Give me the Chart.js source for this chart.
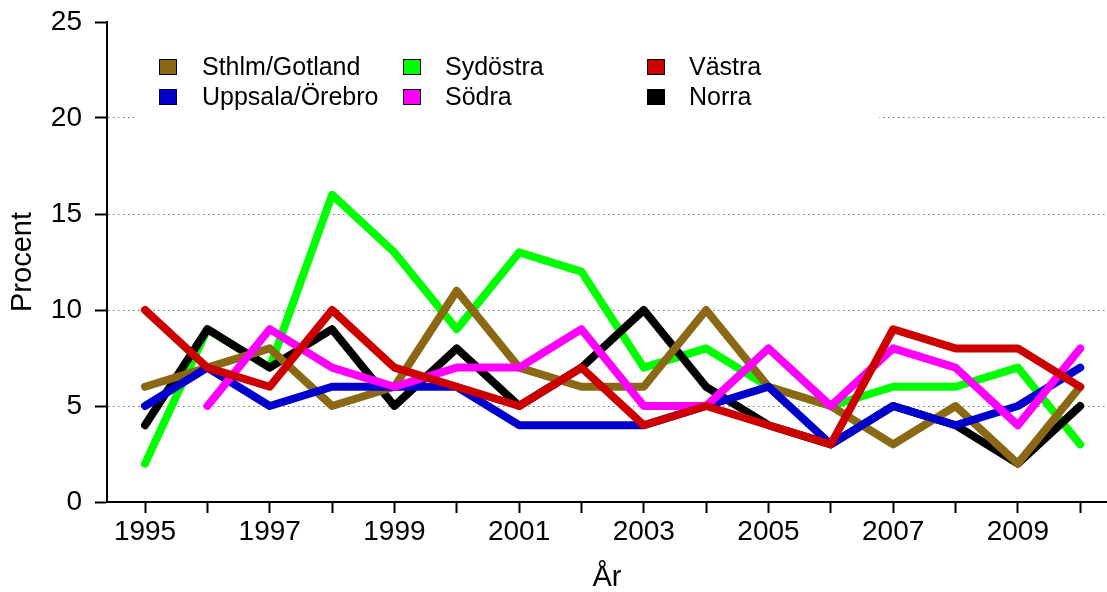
<!DOCTYPE html>
<html>
<head>
<meta charset="utf-8">
<script src="https://cdn.jsdelivr.net/npm/chart.js@4/dist/chart.umd.min.js"></script>
<style>
  html, body { margin: 0; padding: 0; background: #fff; }
  canvas { display: block; }
</style>
</head>
<body>
<canvas id="chart" width="1107" height="592"></canvas>
<script>
  // data
  var years = [1995, 1996, 1997, 1998, 1999, 2000, 2001, 2002, 2003, 2004, 2005, 2006, 2007, 2008, 2009, 2010];
  var sthlmGotland   = [6, 7, 8, 5, 6, 11, 7, 6, 6, 10, 6, 5, 3, 5, 2, 6];
  var uppsalaOrebro  = [5, 7, 5, 6, 6, 6, 4, 4, 4, 5, 6, 3, 5, 4, 5, 7];
  var sydostra       = [2, 9, 7, 16, 13, 9, 13, 12, 7, 8, 6, 5, 6, 6, 7, 3];
  var sodra          = [null, 5, 9, 7, 6, 7, 7, 9, 5, 5, 8, 5, 8, 7, 4, 8];
  var vastra         = [10, 7, 6, 10, 7, 6, 5, 7, 4, 5, 4, 3, 9, 8, 8, 6];
  var norra          = [4, 9, 7, 9, 5, 8, 5, 7, 10, 6, 4, 3, 5, 4, 2, 5];
  var yTicks = [0, 5, 10, 15, 20, 25];

  var seriesNames  = ["Sthlm/Gotland", "Uppsala/Örebro", "Sydöstra", "Södra", "Västra", "Norra"];
  var seriesValues = [sthlmGotland, uppsalaOrebro, sydostra, sodra, vastra, norra];
  var seriesColors = ["#8B6914", "#0000CD", "#00FF00", "#FF00FF", "#CD0000", "#000000"];
  // lower = drawn on top
  var drawOrder    = [4, 3, 6, 2, 1, 5];

  Chart.defaults.font.family = "'Liberation Sans', Arial, sans-serif";
  Chart.defaults.color = "#000";

  var datasets = seriesNames.map(function(name, i) {
    return {
      label: name,
      data: years.map(function(yr, j) { return { x: yr, y: seriesValues[i][j] }; }),
      borderColor: seriesColors[i],
      backgroundColor: seriesColors[i],
      borderWidth: 8,
      borderCapStyle: "round",
      borderJoinStyle: "round",
      pointRadius: 0,
      tension: 0,
      spanGaps: false,
      order: drawOrder[i]
    };
  });

  // legend in 3 columns x 2 rows, with a white background over the grid
  var gridLegend = {
    id: "gridLegend",
    afterDraw: function(chart) {
      var ctx = chart.ctx;
      var colX = [159, 403, 647];
      var textX = [202, 445, 689];
      var rowY = [67, 97];
      ctx.save();
      ctx.fillStyle = "#fff";
      ctx.fillRect(134, 40, 745, 86);
      ctx.font = "25px 'Liberation Sans', Arial, sans-serif";
      ctx.textBaseline = "middle";
      ctx.textAlign = "left";
      chart.data.datasets.forEach(function(ds, i) {
        var c = Math.floor(i / 2), r = i % 2;
        ctx.fillStyle = ds.borderColor;
        ctx.fillRect(colX[c], rowY[r] - 8, 18, 16);
        ctx.lineWidth = 1;
        ctx.strokeStyle = "#000";
        ctx.strokeRect(colX[c] + 0.5, rowY[r] - 7.5, 17, 15);
        ctx.fillStyle = "#000";
        ctx.fillText(ds.label, textX[c], rowY[r] + 1);
      });
      ctx.restore();
    }
  };

  var ctx = document.getElementById("chart").getContext("2d");
  new Chart(ctx, {
    type: "line",
    data: { datasets: datasets },
    plugins: [gridLegend],
    options: {
      responsive: false,
      animation: false,
      devicePixelRatio: 1,
      layout: { padding: { top: 22, right: 0, bottom: 0, left: 0 } },
      plugins: { legend: { display: false }, tooltip: { enabled: false } },
      scales: {
        x: {
          type: "linear",
          min: 1994.39,
          max: 2010.43,
          afterBuildTicks: function(scale) {
            scale.ticks = years.map(function(y) { return { value: y }; });
          },
          afterFit: function(scale) {
            scale.height = 90;
            scale.paddingLeft = 0;
            scale.paddingRight = 0;
          },
          ticks: {
            autoSkip: false,
            maxRotation: 0,
            padding: 5,
            font: { size: 28, lineHeight: 1 },
            callback: function(v) { return v % 2 === 1 ? String(v) : ""; }
          },
          grid: {
            drawOnChartArea: false,
            tickLength: 11,
            tickColor: "#000",
            tickWidth: 2
          },
          border: { color: "#000", width: 2 },
          title: {
            display: true,
            text: "År",
            font: { size: 29, lineHeight: 1 },
            padding: { top: 0, bottom: 0 }
          }
        },
        y: {
          min: 0,
          max: 25,
          afterBuildTicks: function(scale) {
            scale.ticks = yTicks.map(function(v) { return { value: v }; });
          },
          afterFit: function(scale) {
            scale.width = 107;
            scale.paddingTop = 0;
            scale.paddingBottom = 0;
          },
          ticks: {
            padding: 13,
            font: { size: 28, lineHeight: 1 },
            callback: function(v) { return String(v); }
          },
          grid: {
            color: function(c) {
              var v = c.tick ? c.tick.value : 0;
              return (v === 0 || v === 25) ? "rgba(0,0,0,0)" : "#6e6e6e";
            },
            lineWidth: 1,
            tickLength: 12,
            tickColor: "#000",
            tickWidth: 2
          },
          border: { color: "#000", width: 2, dash: [1.5, 3.5] },
          title: {
            display: true,
            text: "Procent",
            font: { size: 29, lineHeight: 1 },
            padding: { top: 8, bottom: 0 }
          }
        }
      }
    }
  });
</script>
</body>
</html>
